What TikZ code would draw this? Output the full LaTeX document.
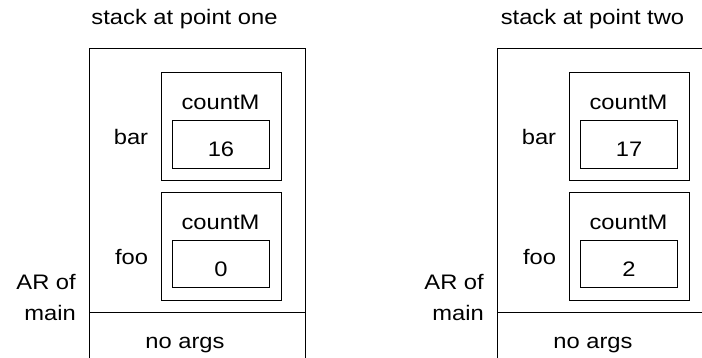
\documentclass[tikz,border=0pt]{standalone}
\usepackage{fontspec}
\setmainfont[FakeStretch=1.13]{Liberation Sans}
\begin{document}
\begin{tikzpicture}[x=1pt,y=-1pt,
  lbl/.style={inner sep=0pt, font=\fontsize{21}{24}\selectfont, anchor=base},
  lblr/.style={lbl, anchor=base east},
  frame/.style={draw, line width=1pt, inner sep=0pt, rectangle},
  rule/.style={line width=1pt},
]
\useasboundingbox (0,0) rectangle (702,358);
\clip (0,0) rectangle (702,358);

% one snapshot of the stack: prefix, horizontal offset, title, bar value, foo value
\newcommand\stackpanel[5]{%
  \begin{scope}[xshift=#2pt]
    \node[lbl] (#1title) at (184.5,25) {#3};
    % activation record of main (runs past the lower edge)
    \node[frame, minimum width=216pt, minimum height=331pt] (#1main) at (197,214.5) {};
    \coordinate (#1dl) at (89,312.7);
    \coordinate (#1dr) at (305,312.7);
    \draw[rule] (#1dl) -- (#1dr);
    \node[lblr] (#1arof) at (76,289.3) {AR of};
    \node[lblr] (#1mainlbl) at (76,320) {main};
    \node[lbl] (#1args) at (185,348.3) {no args};
    % frame of bar
    \node[frame, minimum width=119.7pt, minimum height=107.6pt] (#1bar) at (221.15,126.5) {};
    \node[lbl] (#1barlbl) at (131,145) {bar};
    \node[lbl] (#1barvar) at (220.5,110) {countM};
    \node[frame, minimum width=96.6pt, minimum height=47.6pt] (#1barbox) at (221,144.5) {};
    \node[lbl] (#1barval) at (221,156.7) {#4};
    % frame of foo
    \node[frame, minimum width=119.7pt, minimum height=107.6pt] (#1foo) at (221.15,246.5) {};
    \node[lbl] (#1foolbl) at (131.5,265) {foo};
    \node[lbl] (#1foovar) at (220.5,229.3) {countM};
    \node[frame, minimum width=96.6pt, minimum height=47.3pt] (#1foobox) at (221,264.35) {};
    \node[lbl] (#1fooval) at (221,276.7) {#5};
  \end{scope}%
}

\stackpanel{a}{0}{stack at point one}{16}{0}
\stackpanel{b}{408}{stack at point two}{17}{2}
\end{tikzpicture}
\end{document}
